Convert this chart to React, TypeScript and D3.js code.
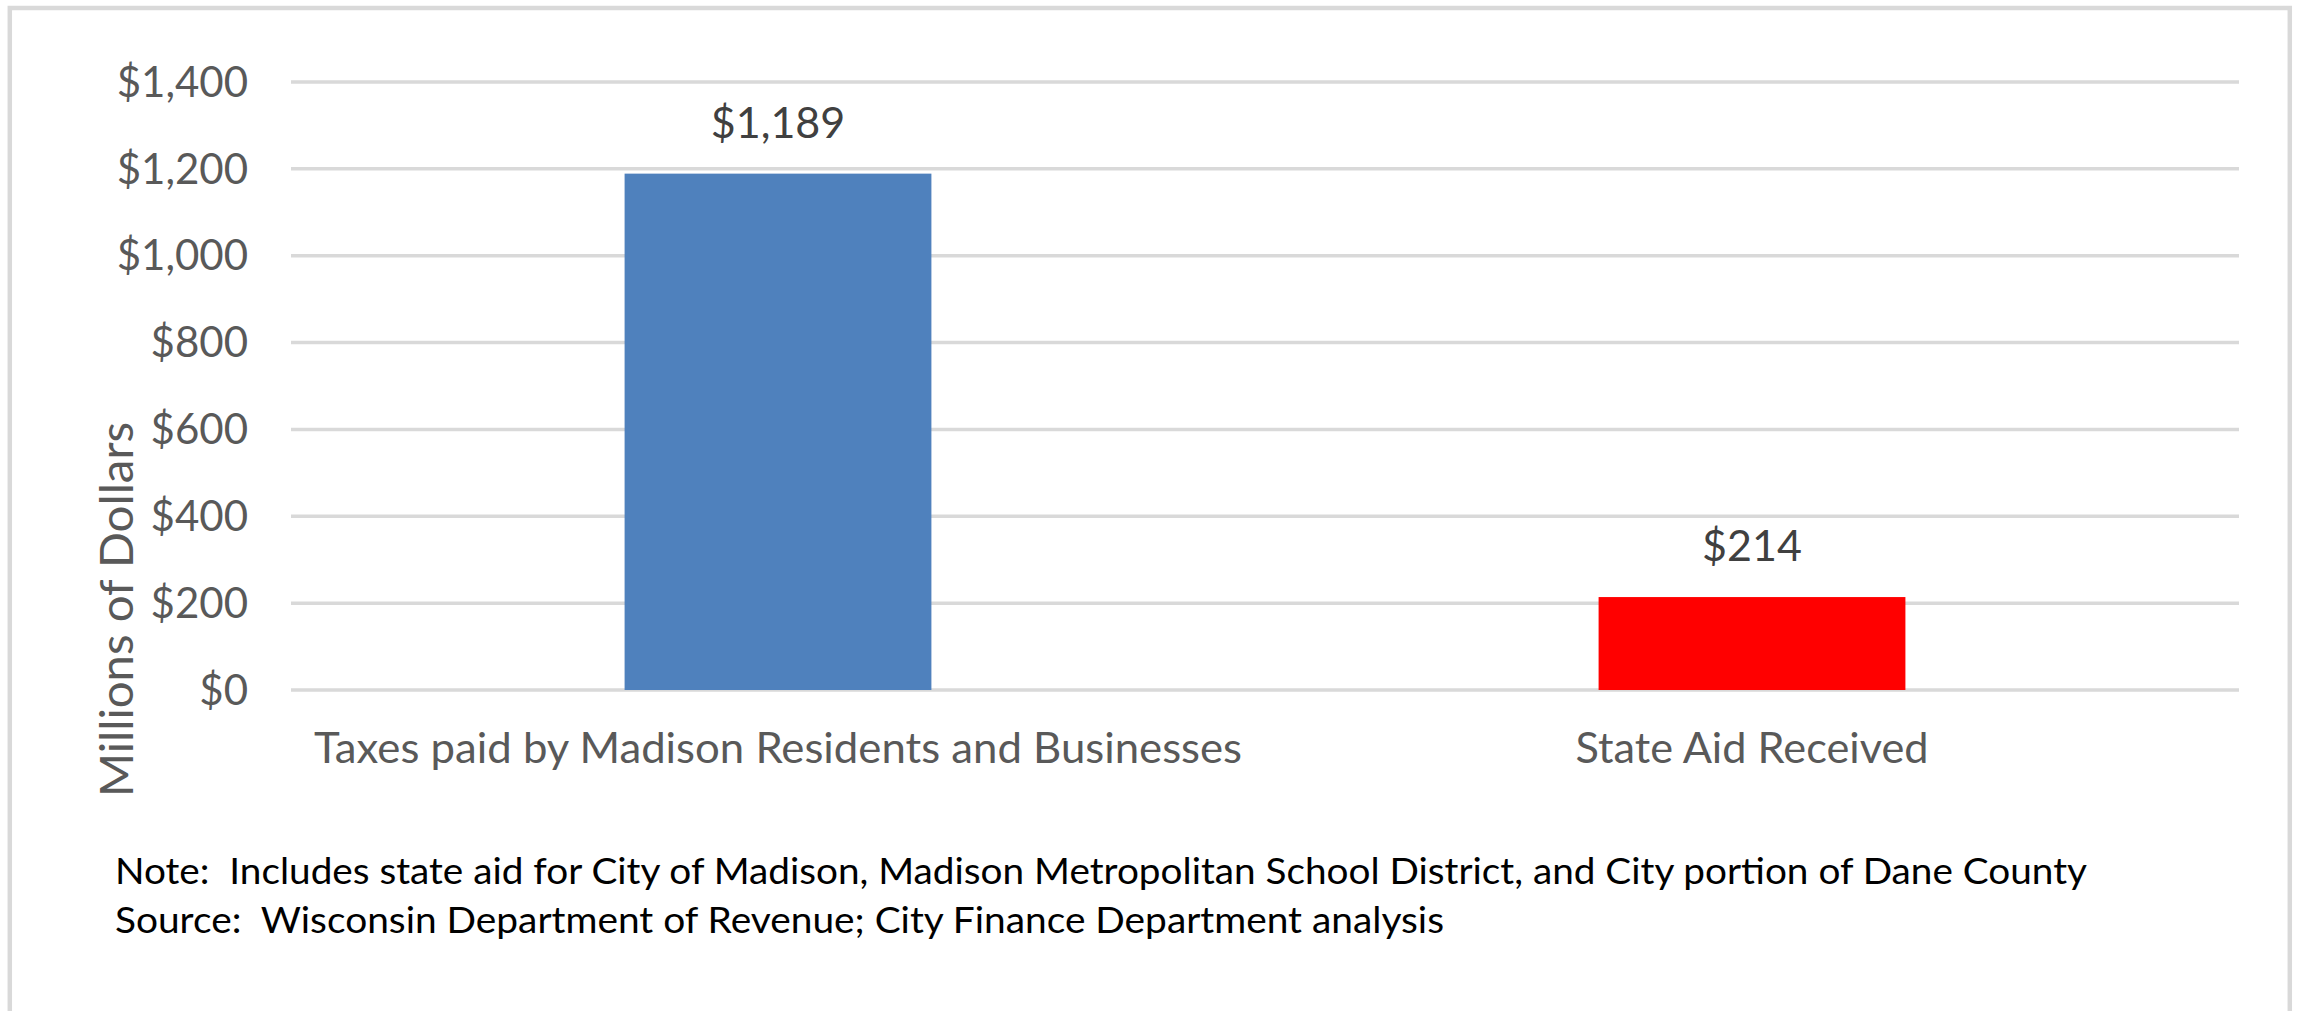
import React from "react";
import * as d3 from "d3";

const categories = ["Taxes paid by Madison Residents and Businesses", "State Aid Received"];
const values = [1189, 214];
const barColors = ["#4f81bd", "#ff0000"];
const yTicks = [0, 200, 400, 600, 800, 1000, 1200, 1400];
const yTitle = "Millions of Dollars";
const notes = [
  "Note:  Includes state aid for City of Madison, Madison Metropolitan School District, and City portion of Dane County",
  "Source:  Wisconsin Department of Revenue; City Finance Department analysis",
];

const W = 2298;
const H = 1011;
const plot = { left: 291, right: 2239, top: 82, bottom: 690 };
const FONT = "Lato, 'Open Sans', sans-serif";

export default function App() {
  const x = d3
    .scaleBand<string>()
    .domain(categories)
    .range([plot.left, plot.right])
    .paddingInner(0.685)
    .paddingOuter(0.3425);
  const y = d3.scaleLinear().domain([0, 1400]).range([plot.bottom, plot.top]);
  const fmt = (v: number) => "$" + d3.format(",")(v);
  const catWidths = [928, 353];
  const noteWidths = [1972, 1329];

  return (
    <svg
      width={W}
      height={H}
      style={{ position: "absolute", left: 0, top: 0, background: "#fff" }}
    >
      <rect x={0} y={0} width={W} height={H} fill="#fff" />
      <rect x={9.8} y={8} width={2280} height={1100} fill="#fff" stroke="#d9d9d9" strokeWidth={4.5} />
      {yTicks.map((t) => (
        <g key={t}>
          <line x1={plot.left} x2={plot.right} y1={y(t)} y2={y(t)} stroke="#d9d9d9" strokeWidth={3.5} />
          <text
            x={248}
            y={y(t)}
            dy="0.35em"
            textAnchor="end"
            fontFamily={FONT}
            fontSize={42}
            fill="#595959"
          >
            {fmt(t)}
          </text>
        </g>
      ))}
      {categories.map((c, i) => {
        const bx = x(c)!;
        const bw = x.bandwidth();
        return (
          <g key={c}>
            <rect x={bx} y={y(values[i])} width={bw} height={y(0) - y(values[i])} fill={barColors[i]} />
            <text
              x={bx + bw / 2}
              y={y(values[i]) - 36}
              textAnchor="middle"
              fontFamily={FONT}
              fontSize={43}
              fill="#404040"
            >
              {fmt(values[i])}
            </text>
            <text
              x={bx + bw / 2}
              y={763}
              textAnchor="middle"
              fontFamily={FONT}
              fontSize={42}
              fill="#595959"
              textLength={catWidths[i]}
              lengthAdjust="spacingAndGlyphs"
            >
              {c}
            </text>
          </g>
        );
      })}
      <text
        transform={`translate(133, 609.5) rotate(-90)`}
        textAnchor="middle"
        fontFamily={FONT}
        fontSize={46}
        fill="#595959"
        textLength={375}
        lengthAdjust="spacingAndGlyphs"
      >
        {yTitle}
      </text>
      {notes.map((n, i) => (
        <text
          key={i}
          x={115}
          y={884 + i * 49}
          fontFamily={FONT}
          fontSize={36}
          fill="#000"
          style={{ whiteSpace: "pre" }}
          textLength={noteWidths[i]}
          lengthAdjust="spacingAndGlyphs"
        >
          {n}
        </text>
      ))}
    </svg>
  );
}
